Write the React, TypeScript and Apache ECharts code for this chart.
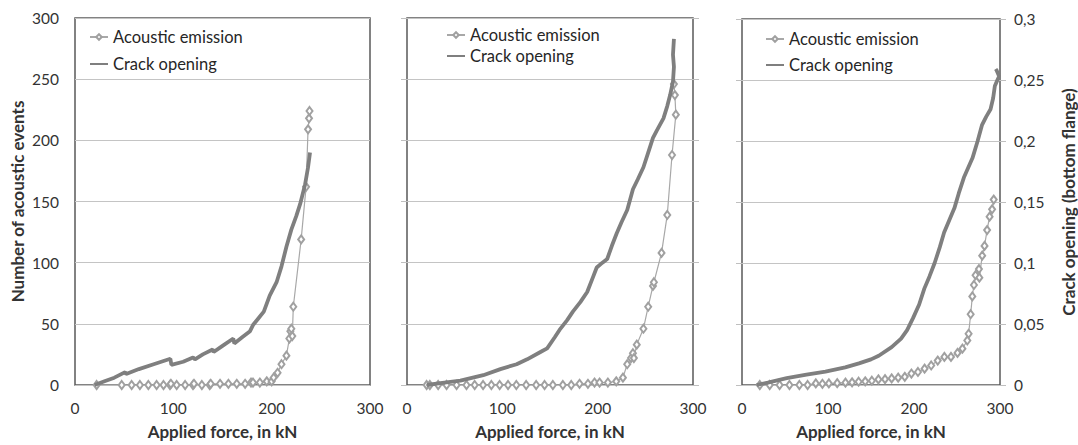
import React, { useEffect, useRef } from "react";
import * as echarts from "echarts";

// ---------- Panel 1 ----------
const p1AeForce = [22, 47.5, 57.6, 66, 74.6, 83, 90, 96.6, 97.5, 103.4, 112, 120, 121, 129, 137, 138, 147.5, 156, 164.5, 173, 179, 181, 188, 195, 200, 202, 206, 210, 215, 218, 219, 220, 221, 222, 230, 235, 237, 238, 238.5];
const p1AeEvents = [0, 0, 0, 0, 0, 0, 0, 0, 1, 0, 0, 0, 1, 0, 0, 1, 1, 1, 1, 1, 2, 2, 2, 3, 3, 6, 10, 17, 24, 38, 44, 46, 40, 64, 119, 162, 209, 218, 224];
const p1CrackForce = [20, 30, 40, 51, 52, 65, 80, 97, 98, 110, 120, 122, 130, 140, 141, 150, 161, 162, 170, 178, 181, 186, 192, 198, 205, 210, 215, 220, 225, 229, 234, 237, 239];
const p1CrackMm = [0, 0.003, 0.006, 0.0105, 0.009, 0.013, 0.017, 0.0215, 0.0165, 0.019, 0.0225, 0.021, 0.025, 0.029, 0.027, 0.032, 0.038, 0.034, 0.039, 0.044, 0.049, 0.054, 0.06, 0.073, 0.084, 0.097, 0.113, 0.127, 0.138, 0.148, 0.164, 0.178, 0.19];

// ---------- Panel 2 ----------
const p2AeForce = [20.6, 24, 32.7, 41.5, 52, 62.4, 71, 79.8, 88.5, 97.2, 106, 114.7, 125, 135.5, 144.3, 153, 163.5, 172.3, 181, 189.8, 196.7, 202, 210.7, 219.5, 226.5, 231, 235, 237, 238, 241, 248, 253, 258, 259, 267, 273, 278, 282, 281, 280];
const p2AeEvents = [0, 0, 0, 0, 0, 0, 0, 0, 0, 0, 0, 0, 0, 0, 0, 0, 0, 0, 1, 1, 2, 2, 2, 3, 6, 17, 22, 26, 22, 33, 46, 64, 81, 84, 108, 139, 188, 221, 237, 246];
const p2CrackForce = [21, 35, 56, 80, 98, 115, 126, 140, 147, 155, 160, 168, 174, 182, 189, 195, 199, 205, 210, 215, 220, 225, 231, 237, 242, 248, 253, 258, 262, 269, 273, 276, 279, 280, 279, 280];
const p2CrackMm = [0, 0.0015, 0.0035, 0.008, 0.013, 0.017, 0.021, 0.027, 0.03, 0.039, 0.045, 0.053, 0.06, 0.068, 0.076, 0.088, 0.096, 0.1, 0.103, 0.114, 0.124, 0.133, 0.143, 0.16, 0.168, 0.178, 0.19, 0.202, 0.208, 0.218, 0.228, 0.237, 0.248, 0.26, 0.27, 0.283];

// ---------- Panel 3 ----------
const p3AeForce = [20.7, 32.2, 43.7, 55.2, 66.7, 76.3, 85.8, 93.5, 101, 110.7, 120.3, 128, 135.6, 143.3, 151, 158.6, 166.3, 174, 181.6, 189.3, 197, 204.6, 212.3, 220, 227.6, 235.3, 243, 250.6, 256.3, 262, 263.5, 265.9, 267.8, 269.7, 271.6, 275.5, 276, 279.3, 282, 285, 287.9, 290.8, 292.7];
const p3AeEvents = [0, 0, 0, 0, 0, 0, 1.3, 1, 1.3, 1.5, 1.9, 2.2, 2.7, 3, 3.5, 4.6, 4.8, 5.4, 6, 6.7, 9.4, 10.7, 13.4, 16, 20, 23, 23, 26.3, 29.8, 36.5, 42, 58, 72.6, 82, 90, 95, 88, 106, 114, 127, 138, 144, 152];
const p3CrackForce = [17, 30, 52, 75, 97, 120, 136, 150, 159, 174, 185, 192, 199, 206, 212, 218, 224, 230, 235, 241, 247, 252, 258, 263, 268, 274, 279, 284, 289, 292, 294, 297, 299, 296, 295];
const p3CrackMm = [0, 0.002, 0.0056, 0.0085, 0.011, 0.0145, 0.0177, 0.021, 0.024, 0.031, 0.038, 0.045, 0.055, 0.066, 0.079, 0.089, 0.1, 0.113, 0.125, 0.135, 0.145, 0.157, 0.17, 0.178, 0.186, 0.2, 0.213, 0.22, 0.226, 0.235, 0.245, 0.25, 0.253, 0.258, 0.259];

const seriesNames = ["Acoustic emission", "Crack opening"];
const xAxisTitle = "Applied force, in kN";
const leftAxisTitle = "Number of acoustic events";
const rightAxisTitle = "Crack opening (bottom flange)";

const zip = (xs: number[], ys: number[]) => xs.map((x, i) => [x, ys[i]]);

const FONT = "Lato, 'Open Sans', sans-serif";
const TXT = "#333333";

export default function App() {
  const ref = useRef<HTMLDivElement>(null);
  useEffect(() => {
    if (!ref.current) return;
    const chart = echarts.init(ref.current, undefined, { renderer: "svg" });
    const grids = [
      { left: 75, top: 18, width: 295, height: 373 },
      { left: 407, top: 18, width: 286, height: 373 },
      { left: 742, top: 19, width: 261, height: 373 },
    ];
    const panels = [
      { ae: zip(p1AeForce, p1AeEvents), cr: zip(p1CrackForce, p1CrackMm) },
      { ae: zip(p2AeForce, p2AeEvents), cr: zip(p2CrackForce, p2CrackMm) },
      { ae: zip(p3AeForce, p3AeEvents), cr: zip(p3CrackForce, p3CrackMm) },
    ];
    const legendPos = [
      { left: 89, top: 28, itemGap: 9 },
      { left: 446, top: 26, itemGap: 3 },
      { left: 765, top: 30, itemGap: 8 },
    ];
    const titleStyle = { fontFamily: FONT, fontWeight: "bold", fontSize: 17, color: TXT };
    const xAxes: any[] = [];
    const yAxes: any[] = [];
    const series: any[] = [];
    const legends: any[] = [];
    grids.forEach((_, i) => {
      xAxes.push({
        type: "value",
        gridIndex: i,
        min: 0,
        max: 300,
        interval: 100,
        name: xAxisTitle,
        nameLocation: "middle",
        nameGap: 38,
        nameTextStyle: titleStyle,
        axisLine: { show: false },
        axisTick: { show: false },
        splitLine: { show: false },
        axisLabel: { fontFamily: FONT, fontSize: 15.5, color: TXT, margin: 15 },
      });
      const tick = { show: i > 0, length: 6, lineStyle: { color: "#bfbfbf" } };
      yAxes.push({
        type: "value",
        gridIndex: i,
        position: "left",
        min: 0,
        max: 300,
        interval: 50,
        name: i === 0 ? leftAxisTitle : "",
        nameLocation: "middle",
        nameGap: 49,
        nameTextStyle: titleStyle,
        axisLine: { show: false },
        axisTick: tick,
        splitLine: { show: true, lineStyle: { color: "#c4c4c4", width: 1 } },
        axisLabel: { show: i === 0, fontFamily: FONT, fontSize: 15.5, color: TXT, margin: 16 },
      });
      yAxes.push({
        type: "value",
        gridIndex: i,
        position: "right",
        min: 0,
        max: 0.3,
        interval: 0.05,
        name: i === 2 ? rightAxisTitle : "",
        nameLocation: "middle",
        nameGap: 60,
        nameTextStyle: titleStyle,
        axisLine: { show: false },
        axisTick: tick,
        splitLine: { show: false },
        axisLabel: {
          show: i === 2,
          fontFamily: FONT,
          fontSize: 15.5,
          color: TXT,
          margin: 14,
          formatter: (v: number) => String(+v.toFixed(2)).replace(".", ","),
        },
      });
      series.push({
        type: "line",
        name: seriesNames[0],
        xAxisIndex: i,
        yAxisIndex: i * 2,
        data: panels[i].ae,
        symbol: "emptyDiamond",
        symbolSize: [6, 8],
        showAllSymbol: true,
        lineStyle: { color: "#a8a8a8", width: 1.2 },
        itemStyle: { color: "#a0a0a0", borderWidth: 1 },
        z: 2,
      });
      series.push({
        type: "line",
        name: seriesNames[1],
        xAxisIndex: i,
        yAxisIndex: i * 2 + 1,
        data: panels[i].cr,
        symbol: "none",
        lineStyle: { color: "#7f7f7f", width: 3.8 },
        itemStyle: { color: "#7f7f7f" },
        z: 3,
      });
      legends.push({
        orient: "vertical",
        left: legendPos[i].left,
        top: legendPos[i].top,
        padding: 0,
        itemGap: legendPos[i].itemGap,
        itemWidth: 18,
        itemHeight: 7,
        selectedMode: false,
        data: [
          { name: seriesNames[0] },
          { name: seriesNames[1], itemStyle: { color: "transparent", borderWidth: 0, opacity: 0 } },
        ],
        textStyle: { fontFamily: FONT, fontSize: 16.5, color: "#262626", lineHeight: 18 },
      });
    });
    chart.setOption({
      animation: false,
      backgroundColor: "#ffffff",
      grid: grids.map((g) => ({ ...g, show: true, borderColor: "#595959", borderWidth: 1.5, backgroundColor: "transparent" })),
      xAxis: xAxes,
      yAxis: yAxes,
      legend: legends,
      series,
    });
    return () => chart.dispose();
  }, []);
  return (
    <div
      ref={ref}
      style={{ position: "fixed", left: 0, top: 0, width: 1078, height: 445, background: "#fff" }}
    />
  );
}
